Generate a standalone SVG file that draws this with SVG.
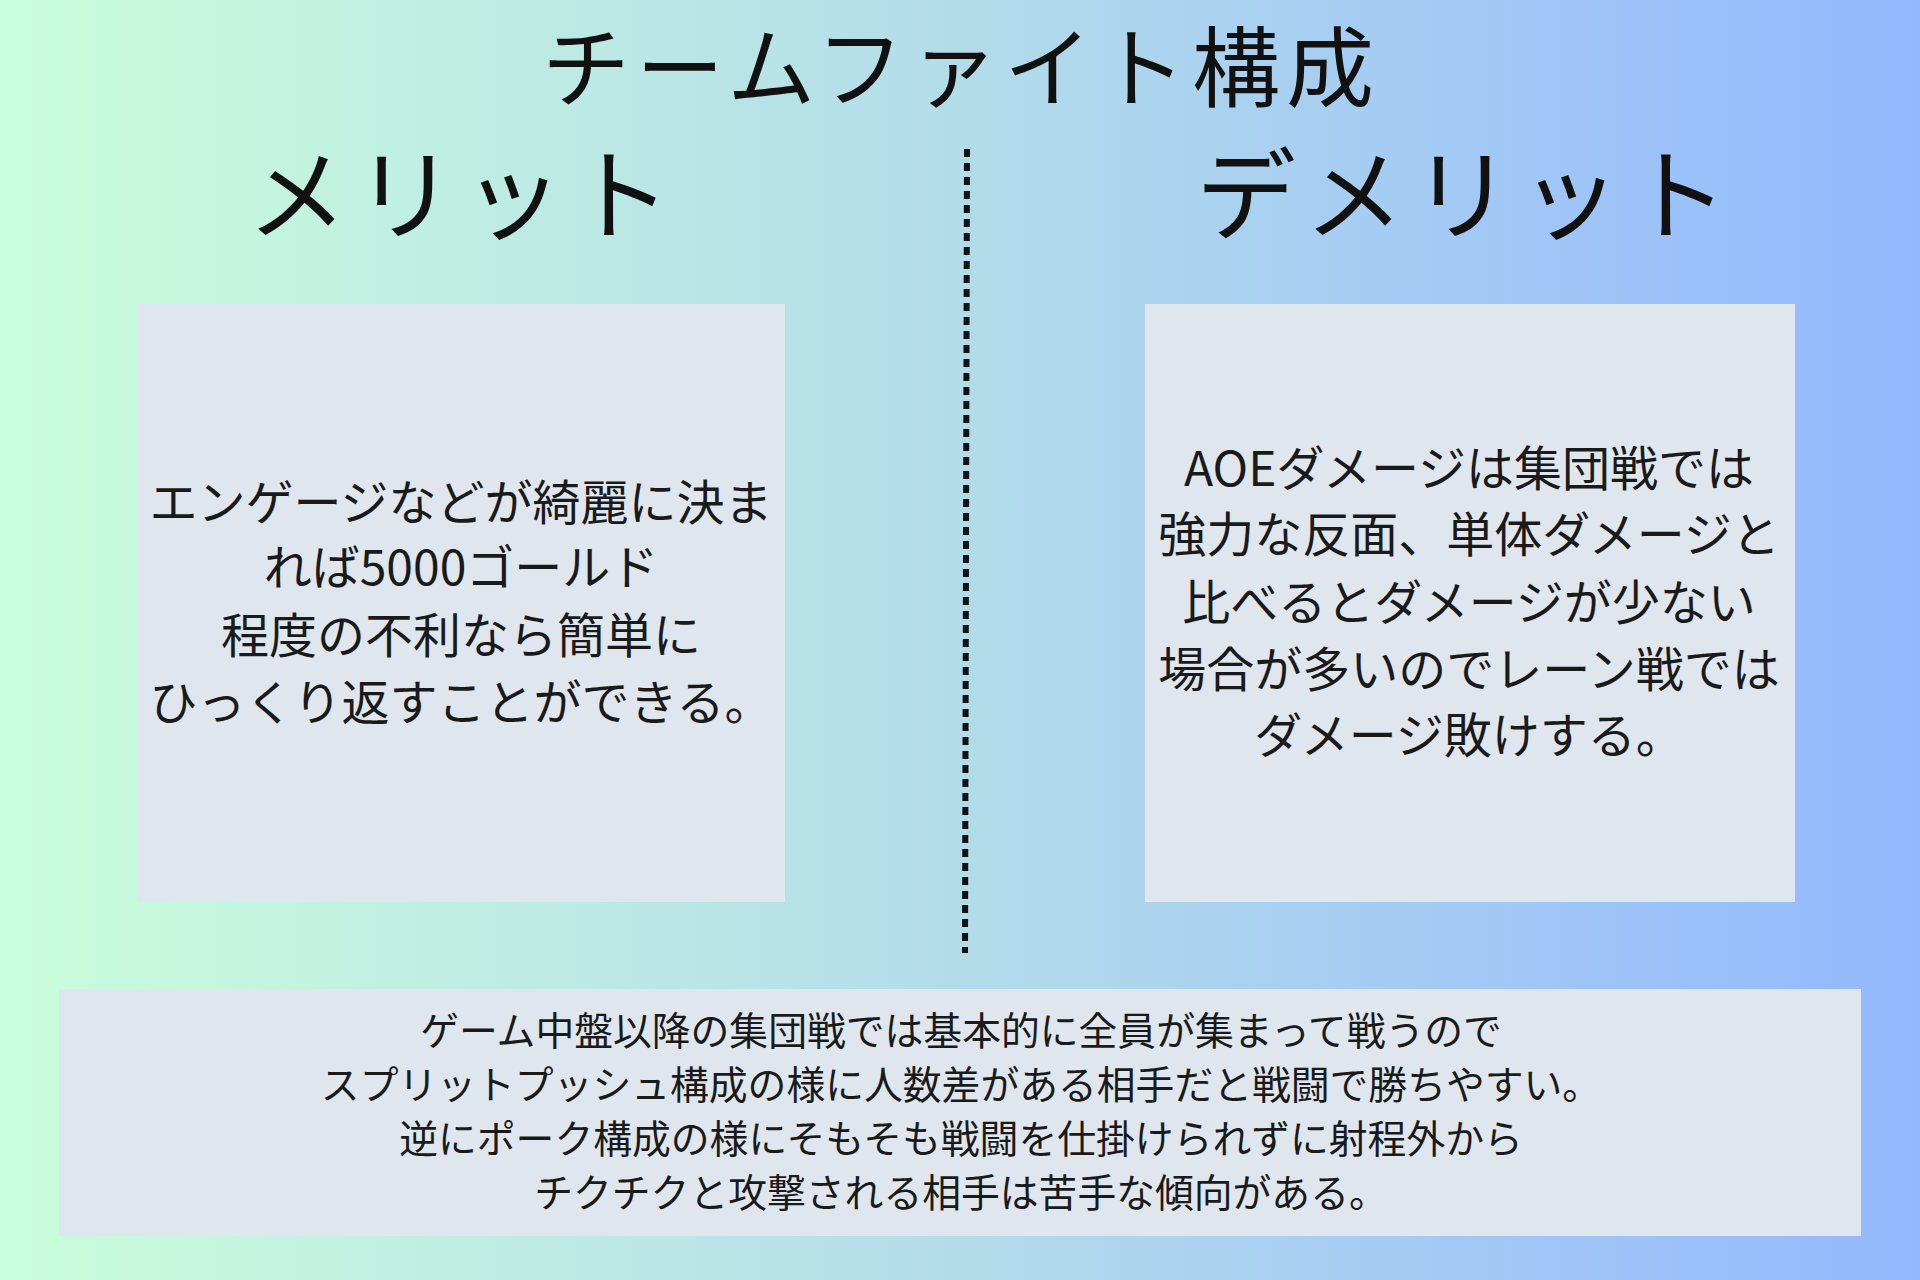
<svg xmlns="http://www.w3.org/2000/svg" width="1920" height="1280" viewBox="0 0 1920 1280">
<defs>
<linearGradient id="bg" x1="0" y1="0" x2="1" y2="0">
<stop offset="0" stop-color="#c9fedb"/>
<stop offset="0.5" stop-color="#b3dcea"/>
<stop offset="1" stop-color="#93b8fe"/>
</linearGradient>
<style>
.h{font-family:"Noto Sans CJK JP","Liberation Serif",serif;fill:#111;text-anchor:middle}
.t{font-family:"Noto Sans CJK JP","Noto Sans",sans-serif;fill:#1a1a1a;text-anchor:middle}
.box{fill:#dfe6ee}
</style>
</defs>
<rect width="1920" height="1280" fill="url(#bg)"/>
<g id="title"><text class="h" x="961" y="100" font-size="88" letter-spacing="6">チームファイト構成</text></g>
<g id="merit-head"><text class="h" x="463" y="232" font-size="100" letter-spacing="8">メリット</text></g>
<g id="demerit-head"><text class="h" x="1466" y="232" font-size="100" letter-spacing="8">デメリット</text></g>
<g id="connectors"><line x1="967" y1="149" x2="965" y2="953" stroke="#111" stroke-width="6" stroke-dasharray="8,6"/></g>
<g id="merit">
<rect class="box" x="137" y="304" width="648" height="598"/>
<text class="t" font-size="48"><tspan x="461" y="520">エンゲージなどが綺麗に決ま</tspan><tspan x="461" y="585">れば5000ゴールド</tspan><tspan x="461" y="653">程度の不利なら簡単に</tspan><tspan x="461" y="720">ひっくり返すことができる。</tspan></text>
</g>
<g id="demerit">
<rect class="box" x="1145" y="304" width="650" height="598"/>
<text class="t" font-size="48"><tspan x="1469" y="486">AOEダメージは集団戦では</tspan><tspan x="1469" y="552">強力な反面、単体ダメージと</tspan><tspan x="1469" y="620">比べるとダメージが少ない</tspan><tspan x="1469" y="687">場合が多いのでレーン戦では</tspan><tspan x="1469" y="753">ダメージ敗けする。</tspan></text>
</g>
<g id="summary">
<rect class="box" x="59" y="989" width="1802" height="247"/>
<text class="t" font-size="38.8"><tspan x="961" y="1045">ゲーム中盤以降の集団戦では基本的に全員が集まって戦うので</tspan><tspan x="961" y="1099">スプリットプッシュ構成の様に人数差がある相手だと戦闘で勝ちやすい。</tspan><tspan x="961" y="1153">逆にポーク構成の様にそもそも戦闘を仕掛けられずに射程外から</tspan><tspan x="961" y="1207">チクチクと攻撃される相手は苦手な傾向がある。</tspan></text>
</g>
</svg>
